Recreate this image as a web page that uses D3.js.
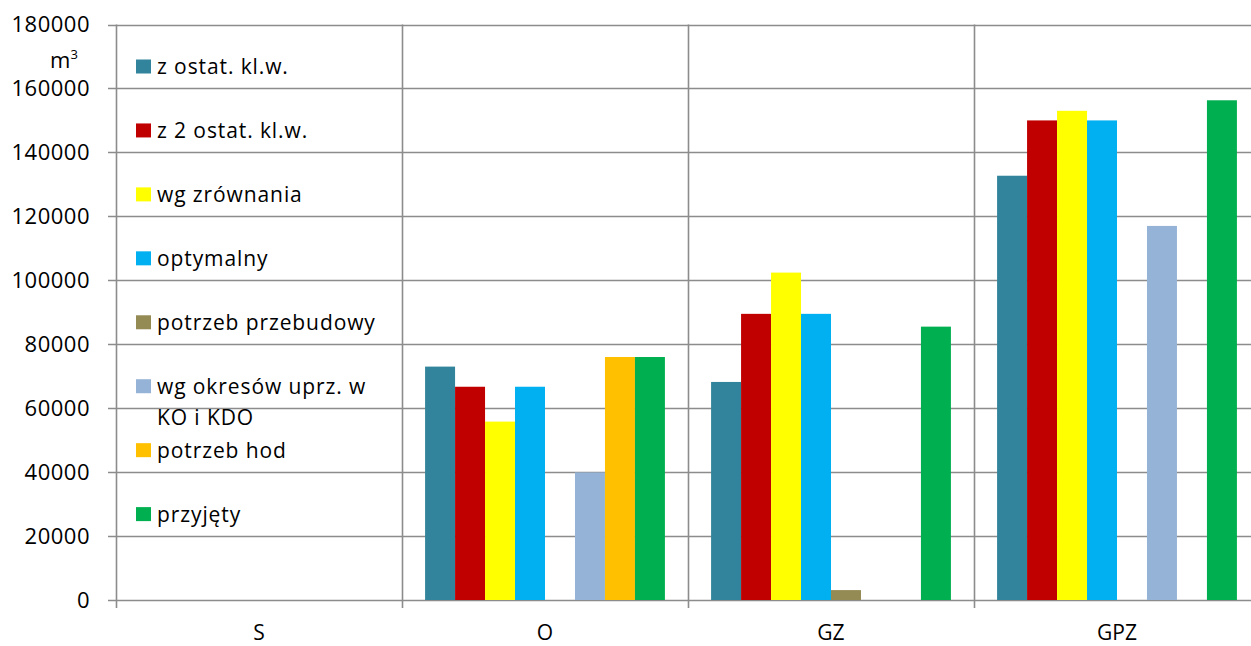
<!DOCTYPE html>
<html><head><meta charset="utf-8">
<script src="https://cdn.jsdelivr.net/npm/d3@7"></script>
<style>
html,body{margin:0;padding:0;background:#fff;}
svg{display:block;}
text{font-family:"Open Sans","Liberation Sans",Arial,sans-serif;fill:#000;}
</style></head>
<body>
<script>
const categories = ["S", "O", "GZ", "GPZ"];
const seriesNames = ["z ostat. kl.w.", "z 2 ostat. kl.w.", "wg zrównania", "optymalny", "potrzeb przebudowy", "wg okresów uprz. w\nKO i KDO", "potrzeb hod", "przyjęty"];
const seriesColors = ["#31849B", "#C00000", "#FFFF00", "#00B0F0", "#948A54", "#95B3D7", "#FFC000", "#00B050"];
const zOstat = [0, 73000, 68200, 132700];
const z2Ostat = [0, 66700, 89500, 150000];
const wgZrownania = [0, 55800, 102400, 153000];
const optymalny = [0, 66700, 89500, 150000];
const potrzebPrzebudowy = [0, 0, 3100, 0];
const wgOkresow = [0, 39900, 0, 117000];
const potrzebHod = [0, 76000, 0, 0];
const przyjety = [0, 76000, 85500, 156300];
const yTicks = [0, 20000, 40000, 60000, 80000, 100000, 120000, 140000, 160000, 180000];
const unitLabel = "m";
const unitSup = "3";

const seriesValues = [zOstat, z2Ostat, wgZrownania, optymalny, potrzebPrzebudowy, wgOkresow, potrzebHod, przyjety];

const W = 1251, H = 646;
const M = {left: 116, top: 24.5, bottom: 46};
const plotRight = 1260;
const svg = d3.select("body").append("svg").attr("width", W).attr("height", H);

const x0 = d3.scaleBand().domain(categories).range([M.left, plotRight]).padding(0);
const x1 = d3.scaleBand().domain(d3.range(seriesNames.length)).range([0, x0.bandwidth()]).paddingInner(0).paddingOuter(0.77);
const y = d3.scaleLinear().domain([0, 180000]).range([H - M.bottom, M.top]);

const gridColor = "#8C8C8C";

// horizontal gridlines
svg.append("g").selectAll("line").data(yTicks).join("line")
  .attr("x1", M.left - 8).attr("x2", plotRight)
  .attr("y1", d => Math.round(y(d)) + 0.5).attr("y2", d => Math.round(y(d)) + 0.5)
  .attr("stroke", gridColor).attr("stroke-width", 1.6);

// vertical category lines
const bounds = categories.map(c => x0(c)).concat([plotRight]);
svg.append("g").selectAll("line").data(bounds).join("line")
  .attr("x1", d => Math.round(d) + 0.5).attr("x2", d => Math.round(d) + 0.5)
  .attr("y1", y(180000)).attr("y2", y(0) + 8)
  .attr("stroke", gridColor).attr("stroke-width", 1.6);

// y axis labels
svg.append("g").selectAll("text").data(yTicks).join("text")
  .attr("x", 90).attr("y", d => y(d)).attr("dy", "0.36em")
  .attr("text-anchor", "end").style("font-size", "22px").style("letter-spacing", "0.5px")
  .text(d => d);

// unit label
const ut = svg.append("text").attr("x", 50).attr("y", 68).style("font-size", "22px");
ut.append("tspan").text(unitLabel);
ut.append("tspan").attr("dy", -9).style("font-size", "13px").text(unitSup);

// category labels
svg.append("g").selectAll("text").data(categories).join("text")
  .attr("x", d => x0(d) + x0.bandwidth() / 2).attr("y", 640)
  .attr("text-anchor", "middle").style("font-size", "21px")
  .text(d => d);

// bars
const groups = svg.append("g").selectAll("g").data(categories).join("g")
  .attr("transform", d => `translate(${x0(d)},0)`);
groups.selectAll("rect")
  .data((c, ci) => seriesValues.map((vals, si) => ({si, v: vals[ci]})).filter(d => d.v > 0))
  .join("rect")
  .attr("x", d => x1(d.si)).attr("width", x1.bandwidth())
  .attr("y", d => y(d.v)).attr("height", d => y(0) - y(d.v))
  .attr("fill", d => seriesColors[d.si]);

// legend
const legendStep = (y(0) - y(180000)) / 9;
const leg = svg.append("g").selectAll("g").data(seriesNames).join("g")
  .attr("transform", (d, i) => `translate(136, ${66.5 + i * legendStep})`);
leg.append("rect").attr("x", 0).attr("y", -7).attr("width", 15).attr("height", 14)
  .attr("fill", (d, i) => seriesColors[i]);
leg.append("text").attr("x", 21).attr("y", 0).style("font-size", "21px").style("letter-spacing", "0.9px")
  .each(function(d) {
    const lines = d.split("\n");
    const t = d3.select(this);
    lines.forEach((ln, k) => t.append("tspan").attr("x", 21).attr("dy", k === 0 ? "0.36em" : "1.5em").text(ln));
  });
</script>
</body></html>
